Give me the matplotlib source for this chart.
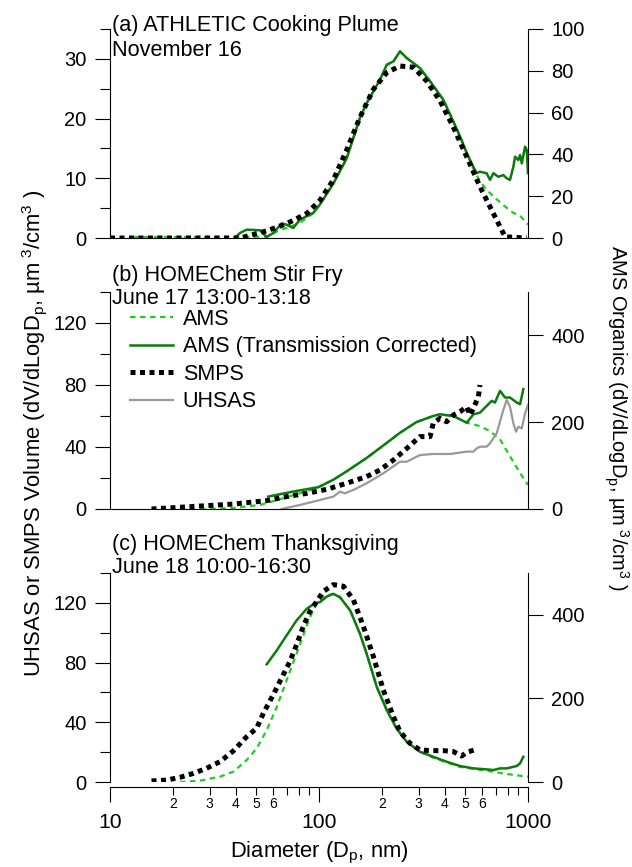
import matplotlib
matplotlib.use("Agg")
import matplotlib.pyplot as plt
from matplotlib.lines import Line2D
from matplotlib.ticker import MultipleLocator, FixedLocator, FixedFormatter

plt.rcParams['font.family'] = ['Liberation Sans', 'DejaVu Sans']
plt.rcParams['mathtext.fontset'] = 'custom'
plt.rcParams['mathtext.rm'] = 'Liberation Sans'
plt.rcParams['mathtext.it'] = 'Liberation Sans:italic'
plt.rcParams['axes.linewidth'] = 0.8

# ---------------- data ----------------
# (a) ATHLETIC cooking plume
a_smps_x = [10, 42, 56.2, 70, 87.3, 101, 117, 135.5, 157, 182, 211, 244, 283, 327,
            379, 439, 509, 589, 683, 777, 986]
a_smps_y = [0, 0, 1.2, 2.4, 4.1, 6.3, 9.7, 14.7, 20.2, 24.9, 27.7, 28.8, 28.6, 26.3,
            23.0, 18.6, 13.6, 8.6, 4.1, 0.2, 0]
a_amsc_x = [40, 41.9, 45.1, 52.2, 56.2, 60.4, 66.2, 69.9, 75.3, 81.1, 93.9, 101, 117,
            135.5, 157, 169, 196, 211, 227, 244, 263, 304, 340, 393, 439, 473, 509,
            548, 568, 589, 634, 658, 683, 721, 762, 791, 820, 851, 867, 899, 916, 934,
            968, 986, 1000]
a_amsc_y = [0.5, 2.4, 4.0, 3.7, 0.5, 2.4, 6.9, 6.4, 4.8, 8.8, 12, 16, 26,
            38, 57.5, 64.5, 75.8, 82.9, 84.5, 89.3, 86.1, 81.3, 75, 66.2, 55.8, 48.6, 40.7,
            34, 31.1, 31.7, 31, 27.8, 31, 29.3, 30.1, 28.6, 27.8, 34.1, 38.9, 37.3, 39.7, 35.7,
            43.7, 42.1, 31]
a_ams_x = [13, 30, 56.2, 64, 69.9, 81.1, 93.9, 101, 117, 135.5, 157, 169, 196, 211,
           227, 244, 263, 304, 340, 393, 439, 473, 509, 548, 589, 634, 683, 735, 791,
           851, 916, 1000]
a_ams_y = [0.5, 0.5, 0.5, 3.5, 4.8, 7.2, 12, 16, 26, 38, 57.5, 64.5, 75.8, 82.9,
           84.5, 89.3, 86.1, 81.3, 75, 66.2, 55.8, 48.6, 40.7, 33, 27.1, 23.1, 19.9, 17.1, 14.4,
           12, 10.7, 6.4]

# (b) HOMEChem stir fry
b_smps_x = [15.8, 27, 38.9, 56.2, 70, 87.3, 109, 135.5, 169, 196, 227, 263, 304, 340,
            352, 379, 408, 439, 473, 509, 528, 548, 579, 589]
b_smps_y = [0, 1.9, 3.2, 5.4, 8, 10.1, 12.7, 16.6, 20.9, 25.2, 31.6, 39.1, 46.7, 46.7,
            55.3, 58.5, 56.3, 60.6, 62.8, 66, 60.6, 64.9, 72.5, 80]
b_amsc_x = [57.2, 75.3, 99.3, 117, 135.5, 169, 211, 244, 293, 352, 379, 439, 509, 548,
            589, 634, 670, 695, 735, 776, 820, 883, 916, 950]
b_amsc_y = [28.6, 40.2, 50.3, 67.3, 86.7, 117.6, 152.4, 175.6, 200.4, 214.3, 218.2, 214.3,
            198.8, 218.2, 222, 237.5, 249.1, 245.3, 272.3, 256.9, 256.9, 245.3, 241.4, 276.2]
b_ams_x = [27, 38.9, 52.2, 65, 81.1, 99.3, 117, 135.5, 169, 211, 244, 293, 352, 379,
           439, 509, 589, 658, 735, 820, 916, 1000]
b_ams_y = [0, 2.3, 9.3, 22.4, 36.4, 50.3, 67.3, 86.7, 117.6, 152.4, 175.6, 200.4, 214.3,
           218.2, 214.3, 198.8, 191, 179.5, 160.2, 121.5, 82.8, 55.7]
b_uhsas_x = [66.2, 81.1, 101, 117, 126, 133, 146, 169, 203, 244, 263, 283, 304, 352, 424,
             509, 548, 568, 589, 634, 658, 708, 762, 791, 820, 851, 877, 899, 934, 968, 1000]
b_uhsas_y = [0, 2.6, 5.8, 8, 11.2, 10.1, 12.3, 16.6, 23, 30.5, 30.5, 32.7, 34.8, 35.5, 35.5,
             37, 37, 39.1, 40.2, 40.2, 42.4, 48.8, 63.9, 70.3, 66, 55.3, 49.9, 53.1, 52, 61.7, 67.1]

# (c) HOMEChem Thanksgiving
c_smps_x = [15.8, 18.7, 21.6, 25.1, 29, 33.6, 38.9, 45.1, 50.3, 54.2, 60.4, 66.2, 72.6,
            78.1, 84.1, 90.5, 97.5, 105, 117, 131, 146, 163, 182, 203, 227, 244, 272, 304,
            340, 393, 439, 482, 509, 568]
c_smps_y = [0.7, 1.3, 3.1, 5.8, 9.2, 13.6, 20.8, 30.4, 36, 46.1, 58.4, 69.6, 80.8,
            91.9, 104.3, 114.3, 121, 127.7, 132.2, 131.1, 122.1, 104.3, 84.1, 61.7, 43.8, 33.8,
            26, 21.5, 21, 21, 20.4, 17.4, 19.9, 21.9]
c_amsc_x = [56.2, 62.8, 70, 78.1, 87.3, 95.7, 101, 109, 117, 126, 141, 157, 169, 189,
            211, 235, 263, 304, 352, 408, 473, 548, 634, 683, 735, 791, 883, 916, 950]
c_amsc_y = [281.5, 314.9, 350.7, 386.5, 414.3, 427.8, 430.2, 443.7, 450.1, 442.1, 410.3,
            354.7, 307, 227.4, 171.8, 128, 96.2, 72.4, 60.4, 48.5, 38.2, 32.6, 30.2, 28.6,
            32.6, 32.6, 38.2, 44.5, 60.4]
c_ams_x = [21.6, 27, 33.6, 38.9, 45.1, 50.3, 56.2, 62.8, 70, 78.1, 84.1, 90.5, 97.5,
           105, 117, 126, 141, 157, 169, 189, 211, 235, 263, 304, 352, 473, 634, 791, 1000]
c_ams_y = [0, 3.2, 12.7, 24.7, 52.5, 80.3, 124, 179.7, 243.3, 307, 350.7, 394.4, 426.2,
           443.7, 450.1, 442.1, 410.3, 354.7, 307, 227.4, 171.8, 128, 96.2, 72.4, 58, 36,
           27, 19.1, 12.7]

titles = [("(a) ATHLETIC Cooking Plume", "November 16"),
          ("(b) HOMEChem Stir Fry", "June 17 13:00-13:18"),
          ("(c) HOMEChem Thanksgiving", "June 18 10:00-16:30")]

# ---------------- styles ----------------
C_AMS = "#22cc22"
C_AMSC = "#0d7a0d"
C_UHSAS = "#999999"
ST_AMS = dict(color=C_AMS, lw=1.6, ls=(0, (2.5, 2)))
ST_AMSC = dict(color=C_AMSC, lw=1.8, ls="-")
ST_SMPS = dict(color="black", lw=3.6, ls=(0, (1, 0.9)), dash_capstyle="butt")
ST_UHSAS = dict(color=C_UHSAS, lw=1.6, ls="-")

FS = 14.5
W, H = 632, 867
fig = plt.figure(figsize=(W / 100, H / 100), dpi=100)

# pixel boxes: (bottom_y, top_y), title baselines in pixels from the top
boxes = [(238, 29), (509, 292), (782, 573)]
title_base = [(31.5, 56.5), (281, 304), (550, 573)]
left_lims = [35, 140, 140]
left_major = [10, 40, 40]
left_minor = [5, 20, 20]
right_lims = [100, 500, 500]
right_major = [20, 200, 200]

axes = []
for i, (yb, yt) in enumerate(boxes):
    ax = fig.add_axes([110 / W, (H - yb) / H, 418 / W, (yb - yt) / H])
    axr = ax.twinx()
    ax.set_zorder(axr.get_zorder() + 1)
    ax.patch.set_visible(False)
    ax.set_xscale("log")
    ax.set_xlim(10, 1000)
    ax.set_ylim(0, left_lims[i])
    axr.set_ylim(0, right_lims[i])
    ax.yaxis.set_major_locator(MultipleLocator(left_major[i]))
    ax.yaxis.set_minor_locator(MultipleLocator(left_minor[i]))
    axr.yaxis.set_major_locator(MultipleLocator(right_major[i]))
    ax.tick_params(axis="y", which="major", direction="out", length=10.8, width=0.8,
                   labelsize=FS, pad=6)
    ax.tick_params(axis="y", which="minor", direction="out", length=7.2, width=0.8)
    axr.tick_params(axis="y", which="major", direction="out", length=10.8, width=0.8,
                    labelsize=FS, pad=6)
    axr.tick_params(axis="y", which="minor", right=False)
    for s in ("top", "right"):
        ax.spines[s].set_visible(False)
    for s in ("top", "left", "bottom"):
        axr.spines[s].set_visible(False)
    t1, t2 = titles[i]
    b1, b2 = title_base[i]
    fig.text(112 / W, (H - b1) / H, t1, fontsize=15.6, va="baseline")
    fig.text(112 / W, (H - b2) / H, t2, fontsize=15.6, va="baseline")
    axes.append((ax, axr))

# panel a
ax, axr = axes[0]
axr.plot(a_ams_x, a_ams_y, **ST_AMS)
axr.plot(a_amsc_x, a_amsc_y, **ST_AMSC)
ax.plot(a_smps_x, a_smps_y, **ST_SMPS)

# panel b
ax, axr = axes[1]
axr.plot(b_ams_x, b_ams_y, **ST_AMS)
axr.plot(b_amsc_x, b_amsc_y, **ST_AMSC)
ax.plot(b_uhsas_x, b_uhsas_y, **ST_UHSAS)
ax.plot(b_smps_x, b_smps_y, **ST_SMPS)
handles = [Line2D([], [], **ST_AMS), Line2D([], [], **ST_AMSC),
           Line2D([], [], **ST_SMPS), Line2D([], [], **ST_UHSAS)]
labels = ["AMS", "AMS (Transmission Corrected)", "SMPS", "UHSAS"]
ax.legend(handles, labels, loc="upper left", bbox_to_anchor=(130 / W, (H - 309) / H),
          bbox_transform=fig.transFigure, frameon=False, fontsize=15.5,
          handlelength=2.0, handletextpad=0.45, labelspacing=0.3, borderpad=0,
          borderaxespad=0)

# panel c
ax, axr = axes[2]
axr.plot(c_ams_x, c_ams_y, **ST_AMS)
axr.plot(c_amsc_x, c_amsc_y, **ST_AMSC)
ax.plot(c_smps_x, c_smps_y, **ST_SMPS)

# x axes: only panel c shows the diameter axis, offset below
for ax, axr in axes[:2]:
    ax.tick_params(axis="x", which="both", bottom=False, labelbottom=False)
ax, axr = axes[2]
ax.spines["bottom"].set_position(("outward", 3.6))
ax.xaxis.set_major_locator(FixedLocator([10, 100, 1000]))
ax.xaxis.set_major_formatter(FixedFormatter(["10", "100", "1000"]))
minor = [m * d for d in (10, 100) for m in range(2, 10)]
minor_lab = [str(m) if m <= 6 else "" for d in (10, 100) for m in range(2, 10)]
ax.xaxis.set_minor_locator(FixedLocator(minor))
ax.xaxis.set_minor_formatter(FixedFormatter(minor_lab))
ax.tick_params(axis="x", which="major", direction="out", length=10.5, width=0.8,
               labelsize=15.2, pad=8)
ax.tick_params(axis="x", which="minor", direction="out", length=6, width=0.8,
               labelsize=10, pad=1)
ax.set_xlabel(r"Diameter (D$_\mathrm{p}$, nm)", fontsize=15.8, labelpad=6)

fig.text(0.055, 0.5,
         r"UHSAS or SMPS Volume (dV/dLogD$_\mathrm{p}$, µm$^{\ \mathrm{3}}$/cm$^\mathrm{3}$ )",
         rotation=90, ha="center", va="center", fontsize=15.8)
fig.text(0.975, 0.518,
         r"AMS Organics (dV/dLogD$_\mathrm{p}$, µm$^{\ \mathrm{3}}$/cm$^\mathrm{3}$ )",
         rotation=-90, ha="center", va="center", fontsize=14.5)

fig.savefig("out.png", dpi=100)
